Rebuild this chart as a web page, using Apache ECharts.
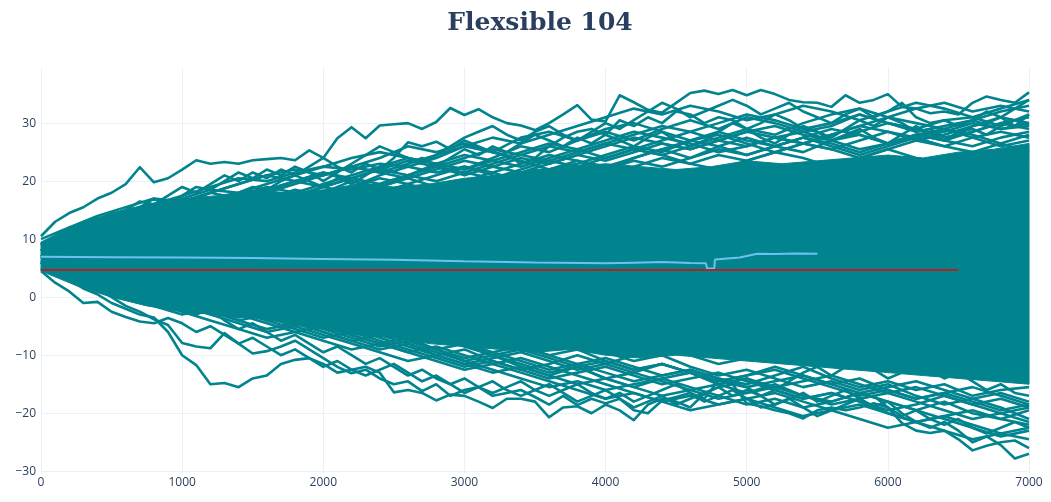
<!DOCTYPE html>
<html>
<head>
<meta charset="utf-8">
<script src="https://cdn.jsdelivr.net/npm/echarts@6/dist/echarts.min.js"></script>
<style>html,body{margin:0;padding:0;background:#fff}#chart{width:1051px;height:502px}</style>
</head>
<body>
<div id="chart"></div>
<script>
// ---- data ----
const titleText = 'Flexsible 104';
const xTicks = [0, 1000, 2000, 3000, 4000, 5000, 6000, 7000];

// dense core of the bundle of paths (solid teal region), sampled every 250
const coreX    = [0,250,500,750,1000,1250,1500,1750,2000,2250,2500,2750,3000,3250,3500,3750,4000,4250,4500,4750,5000,5250,5500,5750,6000,6250,6500,6750,7000];
const coreHigh = [9.5,12.5,14.5,16,17,17.5,18.5,18,18.5,19.5,19,19.5,20.5,21,22,22.5,23,22.5,22,22.5,23.5,23,23.5,24,24.5,24,25,25.5,26.5];
const coreLow  = [4.5,2,0,-1.5,-2.5,-3,-3.5,-4.5,-5.5,-6.5,-7,-8,-8.5,-9,-9.5,-9,-10,-10.5,-10,-10.5,-11,-11.5,-12,-12.5,-13,-13.5,-14,-14.5,-15];

// outer paths, sampled every 100 (0..7000)
const t1 = [8,9.5,10,11.5,12,11,12.5,13.5,13,14,
  15,16.5,15.5,17,18,19,18.5,20,21,22.5,
  24,27.4,29.3,27.4,29.6,29.8,30,29,30.2,32.6,
  31.4,32.4,31,30,29.6,28.8,30,31.5,33.1,30.6,
  30.3,34.8,33.6,32.3,31.8,33.5,35.2,35.6,35,35.7,
  34.8,35.7,35,34,33.6,33.5,32.8,34.8,33.5,34,
  35,32.8,32.5,31.7,32,31.5,33.5,34.6,34,33.5,
  35.3];
const t2 = [10.5,13,14.5,15.5,17,18,19.5,22.4,19.8,20.5,
  22,23.6,23,23.3,23,23.6,23.8,24,23.6,25.3,
  24,22.5,21.5,23,22,24,26.7,26,26.8,25.5,
  27,26,25,24.5,23,24,26,27.5,28.5,29,
  28,30.5,29.5,31,30,32,31.5,30,31,30.5,
  29,30,31.5,30.5,29,28.5,27.5,29,30.5,29.5,
  31,30,28.5,29,27.5,28,29.5,30,31,29.5,
  31.5];
const t3 = [9,10.5,12,11,13,14.5,14,15.5,17,16,
  17.5,19,18.5,20,21.5,20.5,22,21,22.5,21.5,
  20,21.5,23,24.5,26,25,24,23,24.5,26,
  27.5,28.5,29.5,28,27,28.5,29.5,28,27,28.5,
  30,29,30.5,32,33.5,32.5,31,32,33,34,
  33,31.5,32.5,33.5,32,31,30,31.5,32.5,31,
  32,33.5,31,30,30.5,29.5,30.5,32,31,32.5,
  34];
const t4 = [8,9,10.5,12,13.5,13,15,16.5,16,17.5,
  19,18,19.5,21,20,21.5,20.5,22,21,20,
  19,20.5,19.5,21,22.5,21.5,23,24,22.5,24,
  25.5,24.5,26,25,26.5,28,27,26,27.5,26.5,
  28,27,26,27.5,28.5,27,26,27,28.5,30,
  29,27.5,26.5,28,29.5,28.5,27,28,29,27.5,
  26.5,28,29.5,28,27,28.5,29,28,29.5,30.5,
  29.5];
const b1 = [6,4.5,3,1.5,0.5,-1,-2,-3,-3.5,-6,
  -10,-11.7,-15,-14.8,-15.5,-14,-13.5,-11.5,-10.8,-10.5,
  -11.5,-13,-12.5,-12,-13,-16.4,-16,-16.5,-17.8,-16.8,
  -17,-18,-19.1,-17.5,-17.5,-18,-20.7,-19,-18.8,-20,
  -18.5,-19.5,-21.2,-18.5,-17.5,-18,-19,-16.6,-15.5,-15,
  -15.5,-17,-16,-14.5,-13,-12,-13.5,-12,-11,-12.5,
  -14,-13,-11.5,-12.5,-14,-13,-14.5,-16,-15,-16.5,
  -17];
const b2 = [7,5.5,4,2.5,1.5,0,-1.5,-2.5,-3.8,-4.8,
  -7.9,-8.5,-8.8,-6.2,-8,-9.7,-9.3,-8.5,-7.5,-9,
  -10.5,-12,-13.1,-12.5,-14,-15,-14.5,-16.2,-15,-17,
  -16,-15.5,-17,-16.5,-16,-17.2,-18.5,-17,-18.6,-17.5,
  -18.3,-17.5,-19.5,-20,-17.8,-17.2,-16.5,-17.5,-14.3,-15,
  -18.3,-18.8,-19.5,-20,-20.9,-19.5,-19,-19.5,-19,-18.3,
  -19,-21.7,-23,-23.4,-23,-24.5,-26.4,-25.6,-25,-24.7,
  -26];
const b3 = [6,5,3.5,4,2,1,2,0.5,-1,0,
  -1.5,-3,-2,-4,-5.5,-4.5,-6,-7.5,-6.5,-8,
  -9.5,-8.5,-10,-11.5,-10.5,-12,-13.5,-12.5,-14,-15,
  -14,-15.5,-16.5,-15.5,-14.5,-16,-17,-16,-15,-16.5,
  -17.5,-16.5,-18,-17,-16,-15,-16.5,-18,-17,-16,
  -17.5,-19,-18.5,-17.5,-19,-20.5,-19.5,-18.5,-17.5,-18.8,
  -18,-20,-21.5,-22.5,-21.5,-23,-25,-24,-25.5,-27.8,
  -27];
const b4 = [4.5,2.5,1,-1,-0.8,-2.5,-3.4,-4.2,-4.5,-3.6,
  -4.5,-6,-5,-6.5,-8,-7,-8.5,-10,-9,-10.5,
  -12,-11,-12.5,-13.5,-12.5,-11.5,-13,-14.5,-13.5,-15,
  -16.5,-15.5,-14.5,-16,-17,-16,-15,-16.5,-18,-17,
  -16,-17.5,-19,-18,-17,-18.5,-17.5,-16.5,-15.5,-17,
  -16,-17,-18.5,-17.5,-16.5,-18,-17,-16,-17.5,-17,
  -19,-20.5,-19.5,-21,-22,-21,-22.5,-23.5,-22.5,-21.5,
  -22.5];

// fringe paths, sampled every 200 (0..7000)
const u1 = [7,9,11,10,12,14,13,15,17,16, 18,20,19,21,23,22,24,26,25,27, 28.5,27,29,30.5,29,31,30,28.5,29.5,31.5, 30,29,30.5,31,29.5,31.5];
const u2 = [8,10,9,11,13,12,14,15.5,14,16, 17.5,16,18,19.5,18,20,21.5,20,22,23.5, 22,24,25.5,24,26,27.5,26,25,27,28, 26.5,28,27,26,27.5,28.5];
const u3 = [7,8.5,10,12,11,13,15,14,16,18, 17,19,21,22.5,24,26,25,27.5,28.5,27, 29,30,28.5,27,28,26.5,25,26.5,25.5,24, 25.5,27,26,25,26.5,25];
const u4 = [6,8,7,9,10.5,9.5,11,12.5,12,14, 15,14,16,17.5,17,19,20.5,19.5,21,22, 21,22.5,24,23,22,23.5,25,24,22.5,24, 25.5,24,23,24.5,23,22.5];
const u5 = [9,11,13,15,14,16,18,19.5,21,20, 21.5,20,19,20.5,19,18,17,18.5,17.5,16, 17,18,16.5,15,16,17.5,19,18,20,21, 20.5,22,21,20,21.5,23];
const u6 = [8,10,12,14,13,15,17,16,18,20, 21,22.5,24,26,25,26.5,25,23.5,22,23, 24.5,26,25,27,28.5,27,26,27.5,29,28, 26.5,27.5,29,28,26.5,28];
const u7 = [8,10,11.5,13,14.5,16,17,16,18,19.5, 21,22.5,21.5,23,24.5,26,27.5,26.5,28,29.5, 31,32.5,31.5,33,32,30.5,31.5,33,32,30.5, 32,33.5,32.5,31,32.5,34];
const u8 = [7,9,10.5,12,13.5,15,16,17.5,19,18, 19.5,21,22.5,24,23,22,23.5,25,26.5,25.5, 24,25.5,27,28.5,30,31.5,30.5,29,30,31.5, 30,28.5,29.5,30.5,29,30];
const u9 = [9,10,12,13.5,15,16.5,18,17,18.5,20, 19,20.5,22,23.5,22.5,21,22.5,24,23,24.5, 26,27.5,26.5,25.5,27,28.5,29.5,28,27,28.5, 30,29,27.5,28.5,30,31];
const u10 = [8,9.5,11,12.5,12,14,15.5,17,16,17.5, 19,20.5,22,21,20,21.5,23,24.5,26,25, 26.5,28,29.5,28.5,27,26,27.5,28.5,27,25.5, 26.5,28,29,27.5,26,27];
const u11 = [7,8.5,10,11,12.5,14,13,14.5,16,17.5, 19,18,19.5,21,22.5,24,25.5,24.5,23.5,25, 26.5,25.5,24.5,26,27.5,29,28,30,31.5,32.5, 31,32.5,33.5,32,33,32];
const u12 = [9,11,12.5,14,15.5,17,18.5,18,19.5,21, 22.5,24,25,24,23,24.5,23.5,22.5,24,25.5, 27,28.5,27.5,26.5,25,26,27.5,26.5,28,29.5, 28.5,27,28,29.5,31,30];
const u13 = [8,9,10.5,12,13.5,12.5,14,15.5,17,18.5, 17.5,19,20.5,19.5,21,22.5,21.5,23,24.5,23.5, 22.5,24,25.5,27,26,24.5,26,27.5,26,24.5, 26,27.5,28.5,30,29,29.5];
const u14 = [7,8,9.5,11,12.5,14,15.5,17,18.5,20, 21.5,20.5,19.5,21,22.5,21.5,20.5,22,23.5,22.5, 24,25.5,24.5,23,24.5,23.5,25,26.5,25.5,27, 28.5,27.5,26,27.5,28.5,27.5];
const u15 = [9,11,13,14.5,16,17.5,19,20.5,20,21.5, 22.5,22,23,22.5,21.5,22.5,21,20,21.5,20.5, 22,23.5,22.5,24,25.5,24.5,26,27.5,26.5,25, 26.5,28,27,28.5,30,29];
const u16 = [10,12,14,15.5,17,16.5,18,19.5,21,22, 21,22.5,21.5,20.5,22,23.5,22.5,21.5,23,24.5, 23.5,25,26.5,25.5,27,28.5,27.5,26.5,28,29.5, 31,30,29,30.5,32,33];
const l1 = [6,4,2,3,1,-1,0,-2,-4,-3, -5,-6.5,-8,-7,-9,-11,-10,-12,-13.5,-12, -14,-15.5,-14,-13,-15,-16.5,-15,-17,-18,-16.5, -18,-19.5,-18,-20,-21,-19.5];
const l2 = [5,3.5,4,2,0.5,1.5,-0.5,-2,-1,-3, -4.5,-3.5,-5,-7,-6,-8,-9.5,-8.5,-10,-11.5, -10.5,-12,-13.5,-12.5,-14,-15,-13.5,-12,-14,-15.5, -14.5,-16,-15,-17,-16,-15.5];
const l3 = [7,5,6,4,3,1.5,2.5,0.5,-1,0, -2,-3.5,-2.5,-4.5,-6,-5,-7,-8.5,-10,-9, -11,-12.5,-11.5,-13,-15,-14,-16,-17.5,-16.5,-18, -20,-21.5,-20.5,-22,-23.5,-22.5];
const l4 = [6,5,3,4,2.5,1,-1,-2.5,-1.5,-3.5, -5,-4,-6,-7.5,-9,-8,-10,-11.5,-13,-12, -14,-13,-11.5,-13,-14.5,-13.5,-12,-13.5,-15,-14, -16,-17.5,-16.5,-18,-19.5,-18.5];
const l5 = [5,3,1.5,0,-1.5,-3,-2,-4,-5.5,-4.5, -6,-7.5,-9,-8,-10,-9,-11,-12.5,-11.5,-10, -11.5,-10,-8.5,-10,-11.5,-10.5,-9,-10.5,-12,-11, -12.5,-11,-12.5,-14,-13,-12];
const l6 = [7,6,4.5,5.5,4,2,3,1,-0.5,0.5, -1,-2.5,-4,-3,-5,-6.5,-5.5,-7,-9,-8, -9.5,-11,-10,-12,-13.5,-12.5,-14,-15.5,-14.5,-16, -15,-17,-18.5,-17.5,-19,-21];
const l7 = [6,4.5,3,1.5,0,-1.5,-3,-4.5,-6,-5, -6.5,-8,-9.5,-11,-10,-11.5,-13,-12,-13.5,-15, -14,-15.5,-17,-16,-17.5,-16.5,-15.5,-17,-18.5,-17.5, -16.5,-18,-19.5,-21,-20,-21.5];
const l8 = [5,4,2.5,1,-0.5,-2,-1,-2.5,-4,-5.5, -7,-6,-7.5,-9,-10.5,-12,-11,-12.5,-14,-13, -12,-13.5,-15,-14,-13,-14.5,-16,-17.5,-16.5,-18, -19.5,-18.5,-17,-18.5,-20,-19];
const l9 = [6,5,3.5,2,0.5,-1,-2.5,-4,-3,-4.5, -6,-7.5,-6.5,-8,-9.5,-11,-12.5,-14,-15.5,-14.5, -16,-15,-14,-15.5,-17,-18.5,-17.5,-19,-18,-16.5, -18,-19.5,-21,-22.5,-24,-23];
const l10 = [7,5.5,4,2.5,1,-0.5,-2,-3.5,-2.5,-4, -5.5,-7,-8.5,-7.5,-9,-10.5,-9.5,-11,-12.5,-11.5, -13,-14.5,-13.5,-12.5,-14,-15.5,-14.5,-13.5,-15,-16.5, -15.5,-14.5,-16,-17.5,-16.5,-18];
const l11 = [5,3.5,2,0.5,-1,-2.5,-4,-5.5,-7,-6, -5,-6.5,-8,-9.5,-8.5,-10,-11.5,-10.5,-12,-13.5, -15,-16.5,-18,-17,-18.5,-17.5,-16.5,-18,-19.5,-21, -22.5,-21.5,-23,-24.5,-23.5,-24.5];
const l12 = [6,4.5,3,4,2.5,1,-0.5,-2,-3.5,-5, -4,-5.5,-7,-8.5,-10,-11.5,-10.5,-9.5,-11,-12.5, -11.5,-13,-14.5,-16,-15,-14,-15.5,-14.5,-13.5,-15, -16.5,-15.5,-17,-18.5,-17.5,-19];
const l13 = [7,6,4.5,3,1.5,0,-1.5,-3,-4.5,-6, -7.5,-9,-8,-9.5,-11,-12.5,-11.5,-13,-14.5,-16, -17.5,-16.5,-18,-19.5,-18.5,-17.5,-19,-20.5,-19.5,-18.5, -20,-21.5,-20.5,-19.5,-21,-22];
const l14 = [6,5,3.5,2,3,1.5,0,-1.5,-3,-2, -3.5,-5,-6.5,-5.5,-7,-8.5,-10,-9,-10.5,-12, -11,-12.5,-11.5,-13,-14.5,-13.5,-12.5,-14,-15.5,-17, -16,-17.5,-16.5,-15.5,-17,-18.5];

// average path (light blue) and reference level (red)
const meanX = [0,500,1000,1500,2000,2500,3000,3500,4000,4200,4400,4600,4710,4720,4770,4775,4950,5075,5200,5350,5500];
const meanY = [6.95,6.9,6.85,6.75,6.6,6.45,6.2,6.0,5.85,5.95,6.05,5.9,5.85,4.95,4.95,6.5,6.85,7.5,7.45,7.55,7.5];
const refX = [0, 6500];
const refY = [4.7, 4.7];

const walks = [t1,t2,t3,t4,b1,b2,b3,b4,
  u1,u2,u3,u4,u5,u6,u7,u8,u9,u10,u11,u12,u13,u14,u15,u16,
  l1,l2,l3,l4,l5,l6,l7,l8,l9,l10,l11,l12,l13,l14];
const X_END = 7000;

// ---- chart ----
const TEAL = '#02848F';
const FONT_COLOR = '#2a3f5f';
const GRID_COLOR = '#EBF0F8';

const chart = echarts.init(document.getElementById('chart'), null, {renderer: 'canvas'});

const series = [];
series.push({
  type: 'custom',
  silent: true,
  z: 1,
  data: [[0, 0]],
  renderItem: function (params, api) {
    const pts = [];
    for (let i = 0; i < coreX.length; i++) pts.push(api.coord([coreX[i], coreHigh[i]]));
    for (let i = coreX.length - 1; i >= 0; i--) pts.push(api.coord([coreX[i], coreLow[i]]));
    return {type: 'polygon', shape: {points: pts}, style: {fill: TEAL, stroke: TEAL, lineWidth: 1}};
  }
});
walks.forEach(function (w) {
  const step = X_END / (w.length - 1);
  series.push({
    type: 'line', silent: true, z: 2, symbol: 'none', animation: false,
    lineStyle: {color: TEAL, width: 2.6, join: 'round'},
    data: w.map(function (v, i) { return [i * step, v]; })
  });
});
series.push({
  type: 'line', silent: true, z: 3, symbol: 'none',
  lineStyle: {color: '#6EC1EE', width: 2},
  data: meanX.map(function (x, i) { return [x, meanY[i]]; })
});
series.push({
  type: 'line', silent: true, z: 4, symbol: 'none',
  lineStyle: {color: '#B22222', width: 2},
  data: refX.map(function (x, i) { return [x, refY[i]]; })
});

const minus = function (v) { return String(v).replace('-', '\u2212'); };

chart.setOption({
  animation: false,
  backgroundColor: '#fff',
  title: {
    text: titleText,
    left: 535, top: 6, textAlign: 'center',
    textStyle: {fontFamily: 'DejaVu Serif', fontSize: 25, fontWeight: 'bold', color: FONT_COLOR}
  },
  grid: {left: 41, right: 22, top: 68, bottom: 29, containLabel: false},
  xAxis: {
    type: 'value', min: xTicks[0], max: xTicks[xTicks.length - 1], interval: 1000,
    axisLine: {show: false}, axisTick: {show: false},
    axisLabel: {color: FONT_COLOR, fontSize: 12, fontFamily: 'Open Sans', margin: 4,
      formatter: function (v) { return String(v); }},
    splitLine: {show: true, lineStyle: {color: GRID_COLOR, width: 1}}
  },
  yAxis: {
    type: 'value', min: -30.3, max: 39.5, splitNumber: 7,
    axisLine: {show: false}, axisTick: {show: false},
    axisLabel: {
      color: FONT_COLOR, fontSize: 12, fontFamily: 'Open Sans', margin: 5,
      showMinLabel: false, showMaxLabel: false,
      formatter: function (v) { return Math.abs(v % 10) < 1e-9 ? minus(v) : ''; }
    },
    splitLine: {show: true, showMinLine: false, showMaxLine: false, lineStyle: {color: GRID_COLOR, width: 1}}
  },
  series: series
});
</script>
</body>
</html>
